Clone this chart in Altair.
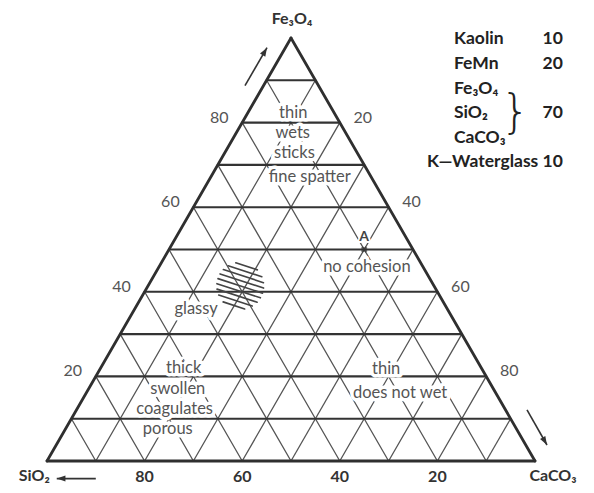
import altair as alt
import numpy as np
import pandas as pd

# ---------------- data ----------------
grid_steps = [10, 20, 30, 40, 50, 60, 70, 80, 90]      # grid every 10 %
fe_edge_ticks = [80, 60, 40, 20]                       # Fe3O4 %, left edge
ca_edge_ticks = [20, 40, 60, 80]                       # CaCO3 %, right edge
si_base_ticks = [80, 60, 40, 20]                       # SiO2 %, base

corner_names = ["Fe₃O₄", "SiO₂", "CaCO₃"]

region_text = ["thin", "wets", "sticks", "fine spatter", "no cohesion", "glassy",
               "thick", "swollen", "coagulates", "porous", "thin", "does not wet"]
region_fe = [82.3, 77.5, 72.8, 67.1, 45.9, 35.9, 22.0, 17.0, 12.3, 7.5, 21.8, 16.1]   # Fe3O4 %
region_ca = [9.3, 11.6, 14.3, 20.3, 42.6, 12.6, 17.0, 18.3, 20.0, 21.0, 58.6, 64.3]  # CaCO3 %

point_name = ["A"]
point_fe = [50]
point_ca = [40]

hatch_fe = 41.4      # centre of hatched region (Fe3O4 %)
hatch_ca = 18.9      # (CaCO3 %)
hatch_radius = 4.8   # in % of side

recipe_names = ["Kaolin", "FeMn", "Fe₃O₄", "SiO₂", "CaCO₃"]
recipe_values = ["10", "20", "", "70", ""]
binder_line = "K—Waterglass 10"

# ---------------- layout (chart units: side of triangle = 1) ----------------
S3 = np.sqrt(3) / 2
FONT = "Lato, DejaVu Sans, sans-serif"
legend_left_x = 0.834
legend_right_x = 1.057
legend_top_y = 0.863
legend_step = 0.0502
brace_x = 0.960
corner_pos = [(0.502, 0.894), (-0.026, -0.041), (1.037, -0.041)]
arrows = [  # tail x, tail y, tip x, tip y
    (0.4057, 0.7684, 0.4508, 0.8463),
    (0.1000, -0.036, 0.0200, -0.036),
    (0.9836, 0.1045, 1.0246, 0.0328),
]


def tern(fe, ca):
    fe = np.asarray(fe, float) / 100
    ca = np.asarray(ca, float) / 100
    return ca + fe / 2, fe * S3


xs = alt.Scale(domain=[0, 1], nice=False, zero=False)
ys = alt.Scale(domain=[0, S3], nice=False, zero=False)
X = alt.X("x:Q", scale=xs, axis=None)
Y = alt.Y("y:Q", scale=ys, axis=None)

# grid segments
h_rows, d_rows = [], []
for k in grid_steps:
    t = k / 100
    h_rows.append(dict(x=t / 2, y=t * S3, x2=1 - t / 2, y2=t * S3))
    d_rows.append(dict(x=t, y=0, x2=(1 + t) / 2, y2=(1 - t) * S3))
    d_rows.append(dict(x=1 - t, y=0, x2=(1 - t) / 2, y2=(1 - t) * S3))
edge_rows = [dict(x=0, y=0, x2=1, y2=0), dict(x=0, y=0, x2=0.5, y2=S3),
             dict(x=1, y=0, x2=0.5, y2=S3)]

def rules(rows, color, width):
    return alt.Chart(pd.DataFrame(rows)).mark_rule(
        color=color, strokeWidth=width, strokeCap="round").encode(
        x=X, y=Y, x2="x2:Q", y2="y2:Q")

diag = rules(d_rows, "#555555", 1.3)
horiz = rules(h_rows, "#333333", 2.1)
edges = rules(edge_rows, "#2f2f2f", 2.8)

# hatch
hx, hy = tern(hatch_fe, hatch_ca)
r = hatch_radius / 100
ang = np.deg2rad(-18)
ux, uy = np.cos(ang), np.sin(ang)
nx, ny = -uy, ux
hatch_rows = []
for d in np.arange(-r + 0.006, r, 0.0105):
    half = np.sqrt(max(r * r - d * d, 0))
    cx, cy = hx + nx * d, hy + ny * d
    hatch_rows.append(dict(x=cx - ux * half, y=cy - uy * half,
                           x2=cx + ux * half, y2=cy + uy * half))
hatch = rules(hatch_rows, "#444444", 1.6)

# region labels
rx, ry = tern(region_fe, region_ca)
reg_df = pd.DataFrame(dict(x=rx, y=ry, label=region_text))
reg_halo = alt.Chart(reg_df).mark_text(
    font=FONT, fontSize=16.5, stroke="white", strokeWidth=7, strokeJoin="round",
    fill="white", baseline="middle").encode(x=X, y=Y, text="label:N")
reg_text = alt.Chart(reg_df).mark_text(
    font=FONT, fontSize=16.5, color="#555555", baseline="middle").encode(
    x=X, y=Y, text="label:N")

# point A
px, py = tern(point_fe, point_ca)
pt_df = pd.DataFrame(dict(x=px, y=py, label=point_name))
pt = alt.Chart(pt_df).mark_point(shape="cross", angle=45, filled=True, size=45,
                                 color="#333333").encode(x=X, y=Y)
pt_halo = alt.Chart(pt_df).mark_text(font=FONT, fontSize=14, dy=-13, fill="white",
                                     stroke="white", strokeWidth=4).encode(
    x=X, y=Y, text="label:N")
pt_text = alt.Chart(pt_df).mark_text(font=FONT, fontSize=14, dy=-13, color="#444444",
                                     fontWeight="bold").encode(x=X, y=Y, text="label:N")

# edge tick labels
lx, ly = tern(fe_edge_ticks, [0] * 4)
left_df = pd.DataFrame(dict(x=lx, y=ly, label=[str(v) for v in fe_edge_ticks]))
left_t = alt.Chart(left_df).mark_text(font=FONT, fontSize=16, color="#555555",
                                      dx=-23, dy=-5).encode(x=X, y=Y, text="label:N")
rfe = [100 - c for c in ca_edge_ticks]
rx2, ry2 = tern(rfe, ca_edge_ticks)
right_df = pd.DataFrame(dict(x=rx2, y=ry2, label=[str(v) for v in ca_edge_ticks]))
right_t = alt.Chart(right_df).mark_text(font=FONT, fontSize=16, color="#555555",
                                        dx=23, dy=-5).encode(x=X, y=Y, text="label:N")
bx, by = tern([0] * 4, [100 - s for s in si_base_ticks])
base_df = pd.DataFrame(dict(x=bx, y=by, label=[str(v) for v in si_base_ticks]))
base_t = alt.Chart(base_df).mark_text(font=FONT, fontSize=16, color="#333333",
                                      fontWeight="bold", baseline="alphabetic",
                                      dy=21).encode(x=X, y=Y, text="label:N")

# corner names
corner_df = pd.DataFrame(dict(x=[p[0] for p in corner_pos], y=[p[1] for p in corner_pos],
                              label=corner_names))
corner_t = alt.Chart(corner_df).mark_text(font=FONT, fontSize=16, color="#333333",
                                          fontWeight="bold", baseline="alphabetic").encode(
    x=X, y=Y, text="label:N")

# recipe legend
n = len(recipe_names)
leg_y = [legend_top_y - i * legend_step for i in range(n)]
names_df = pd.DataFrame(dict(x=[legend_left_x] * n, y=leg_y, label=recipe_names))
vals_df = pd.DataFrame(dict(x=[legend_right_x] * n, y=leg_y, label=recipe_values))
names_t = alt.Chart(names_df).mark_text(font=FONT, fontSize=17.5, fontWeight="bold",
                                        color="#222222", align="left").encode(
    x=X, y=Y, text="label:N")
vals_t = alt.Chart(vals_df).mark_text(font=FONT, fontSize=17.5, fontWeight="bold",
                                      color="#222222", align="right").encode(
    x=X, y=Y, text="label:N")
brace_df = pd.DataFrame(dict(x=[brace_x], y=[leg_y[3]], label=["}"]))
brace_t = alt.Chart(brace_df).mark_text(font="DejaVu Sans", fontSize=46, fontWeight=300,
                                        color="#222222", baseline="middle").encode(
    x=X, y=Y, text="label:N")
binder_df = pd.DataFrame(dict(x=[legend_right_x], y=[legend_top_y - n * legend_step],
                              label=[binder_line]))
binder_t = alt.Chart(binder_df).mark_text(font=FONT, fontSize=17.5, fontWeight="bold",
                                          color="#222222", align="right").encode(
    x=X, y=Y, text="label:N")

# arrows
arr_df = pd.DataFrame(arrows, columns=["x", "y", "x2", "y2"])
shafts = alt.Chart(arr_df).mark_rule(color="#333333", strokeWidth=1.6).encode(
    x=X, y=Y, x2="x2:Q", y2="y2:Q")
heads_df = pd.DataFrame(dict(
    x=[a[2] for a in arrows], y=[a[3] for a in arrows],
    angle=[float(np.degrees(np.arctan2(a[2] - a[0], a[3] - a[1]))) % 360 for a in arrows]))
heads = alt.Chart(heads_df).mark_point(
    shape="M0,0L-0.35,1L0.35,1Z", filled=True, size=300, color="#333333", opacity=1
).encode(x=alt.X("x:Q", scale=xs, axis=None), y=alt.Y("y:Q", scale=ys, axis=None),
         angle=alt.Angle("angle:Q", scale=None))

chart = alt.layer(
    diag, horiz, hatch, edges, reg_halo, pt_halo, reg_text, pt, pt_text,
    left_t, right_t, base_t, corner_t, names_t, vals_t, brace_t, binder_t,
    shafts, heads
).properties(
    width=488, height=423,
    autosize=alt.AutoSizeParams(type="none"),
    padding={"left": 39, "top": 30, "right": 51, "bottom": 24},
).configure_view(stroke=None)

chart.save("out.html", embed_options={"renderer": "svg", "actions": False})
